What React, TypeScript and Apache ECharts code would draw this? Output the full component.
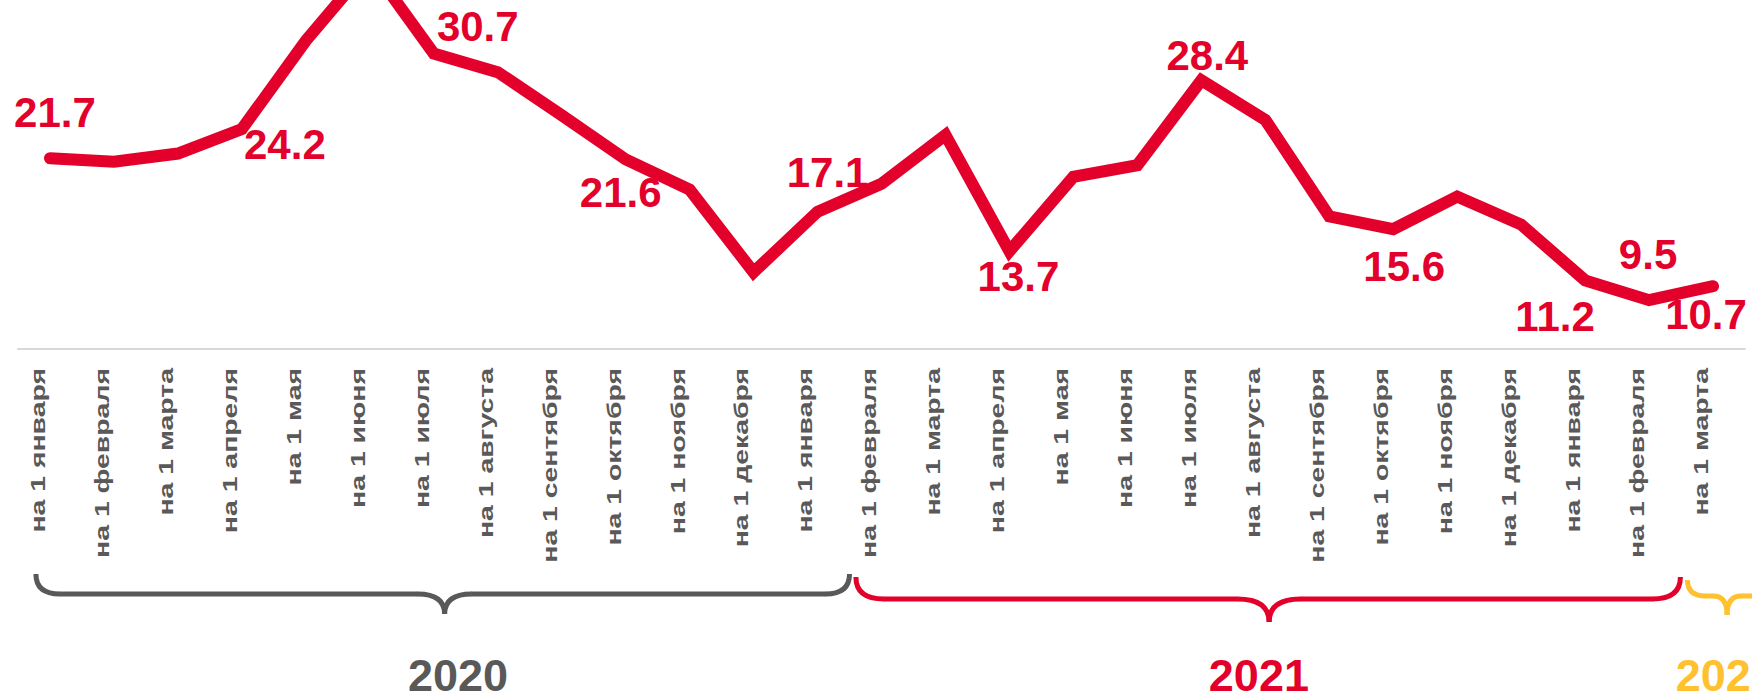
import React, { useEffect, useRef } from "react";
import * as echarts from "echarts";

// ---- data ----
const categories = [
  "на 1 января", "на 1 февраля", "на 1 марта", "на 1 апреля", "на 1 мая", "на 1 июня",
  "на 1 июля", "на 1 августа", "на 1 сентября", "на 1 октября", "на 1 ноября", "на 1 декабря",
  "на 1 января", "на 1 февраля", "на 1 марта", "на 1 апреля", "на 1 мая", "на 1 июня",
  "на 1 июля", "на 1 августа", "на 1 сентября", "на 1 октября", "на 1 ноября", "на 1 декабря",
  "на 1 января", "на 1 февраля", "на 1 марта",
];
const values = [
  21.7, 21.4, 22.1, 24.2, 31.8, 38.3, 30.7, 29.1, 25.4, 21.6, 19.0, 11.9,
  17.1, 19.5, 23.7, 13.7, 20.1, 21.1, 28.4, 25.0, 16.7, 15.6, 18.4, 16.0,
  11.2, 9.5, 10.7,
];
const labeledPoints = [0, 3, 6, 9, 12, 15, 18, 21, 24, 25, 26];
const years = ["2020", "2021", "2022"];

// ---- layout / style ----
const RED = "#E3002B";
const GRAY = "#595959";
const YELLOW = "#FFC12F";
const FONT = "'Liberation Sans', Arial, sans-serif";
const labelOffsets: [number, number][] = [
  [5, -46], [43, 15], [44, -27], [-5, 33], [10, -39], [9, 25],
  [6, -25], [11, 37], [-30, 36], [-1, -46], [-7, 28],
];
const yearColors = [GRAY, RED, YELLOW];
// [startIdx, endIdx, tipIdx, textIdx] in category units
const yearSpans: [number, number, number, number][] = [
  [-0.22, 12.5, 6.17, 6.38],
  [12.6, 25.49, 19.06, 18.9],
  [25.6, 26.85, 26.22, 26.2],
];
// [yTop, yLine, yTip, rEnd, rCurl]
const braceGeom: [number, number, number, number, number][] = [
  [574, 594, 614, 24, 27],
  [577, 599, 622, 28, 32],
  [580, 596, 615, 18, 14],
];

function brace(xL: number, xR: number, xC: number, g: number[], color: string) {
  const [yTop, yLine, yTip, rEnd, rCurl] = g;
  const st = { stroke: color, lineWidth: 5, fill: null as any, lineCap: "butt" };
  return {
    type: "group",
    silent: true,
    children: [
      { type: "bezierCurve", shape: { x1: xL, y1: yTop, x2: xL + rEnd, y2: yLine, cpx1: xL, cpy1: yLine }, style: st },
      { type: "line", shape: { x1: xL + rEnd - 0.5, y1: yLine, x2: xC - rCurl + 0.5, y2: yLine }, style: st },
      { type: "bezierCurve", shape: { x1: xC - rCurl, y1: yLine, x2: xC, y2: yTip, cpx1: xC, cpy1: yLine }, style: st },
      { type: "bezierCurve", shape: { x1: xC, y1: yTip, x2: xC + rCurl, y2: yLine, cpx1: xC, cpy1: yLine }, style: st },
      { type: "line", shape: { x1: xC + rCurl - 0.5, y1: yLine, x2: xR - rEnd + 0.5, y2: yLine }, style: st },
      { type: "bezierCurve", shape: { x1: xR - rEnd, y1: yLine, x2: xR, y2: yTop, cpx1: xR, cpy1: yLine }, style: st },
    ],
  };
}

export default function App() {
  const ref = useRef<HTMLDivElement>(null);

  useEffect(() => {
    if (!ref.current) return;
    const chart = echarts.init(ref.current, undefined, { renderer: "svg" });
    chart.setOption({
      animation: false,
      backgroundColor: "#ffffff",
      grid: { left: 18, right: 7, top: 0, height: 349, containLabel: false },
      xAxis: {
        type: "category",
        data: categories,
        boundaryGap: true,
        axisLine: { show: true, lineStyle: { color: "#D9D9D9", width: 2 } },
        axisTick: { show: false },
        axisLabel: { show: false },
        splitLine: { show: false },
      },
      yAxis: {
        type: "value",
        min: 5.3,
        max: 35.3,
        show: false,
        splitLine: { show: false },
      },
      series: [
        {
          type: "line",
          data: values.map((v, i) => {
            const k = labeledPoints.indexOf(i);
            return k < 0
              ? { value: v }
              : { value: v, label: { show: true, offset: labelOffsets[k] } };
          }),
          symbol: "circle",
          symbolSize: 1,
          showSymbol: true,
          showAllSymbol: true,
          itemStyle: { color: RED },
          lineStyle: { color: RED, width: 12, cap: "round", join: "miter" },
          label: {
            show: false,
            position: "inside",
            color: RED,
            fontSize: 42,
            fontWeight: "bold",
            fontFamily: FONT,
          },
          emphasis: { disabled: true },
        },
      ],
    });

    const xAt = (idx: number) => {
      const p0 = chart.convertToPixel({ xAxisIndex: 0 }, 0) as number;
      const p1 = chart.convertToPixel({ xAxisIndex: 0 }, 1) as number;
      return p0 + (p1 - p0) * idx;
    };
    const axisY = chart.convertToPixel({ yAxisIndex: 0 }, 5.3) as number;

    const graphics: any[] = [];
    // category labels: rotated, stretched along their length like the original
    categories.forEach((c, i) => {
      graphics.push({
        type: "text",
        x: xAt(i) - 12,
        y: axisY + 19,
        rotation: Math.PI / 2,
        scaleX: 1.42,
        silent: true,
        style: {
          text: c,
          fill: GRAY,
          font: `bold 20px ${FONT}`,
          align: "right",
          verticalAlign: "middle",
        },
      });
    });
    years.forEach((y, i) => {
      const [s, e, t, tx] = yearSpans[i];
      graphics.push(brace(xAt(s), xAt(e), xAt(t), braceGeom[i], yearColors[i]));
      graphics.push({
        type: "text",
        x: xAt(tx),
        y: 675,
        silent: true,
        style: {
          text: y,
          fill: yearColors[i],
          font: `bold 45px ${FONT}`,
          align: "center",
          verticalAlign: "middle",
        },
      });
    });
    chart.setOption({ graphic: graphics });

    return () => chart.dispose();
  }, []);

  return (
    <div
      ref={ref}
      style={{ position: "fixed", left: 0, top: 0, width: 1752, height: 699, background: "#fff" }}
    />
  );
}
